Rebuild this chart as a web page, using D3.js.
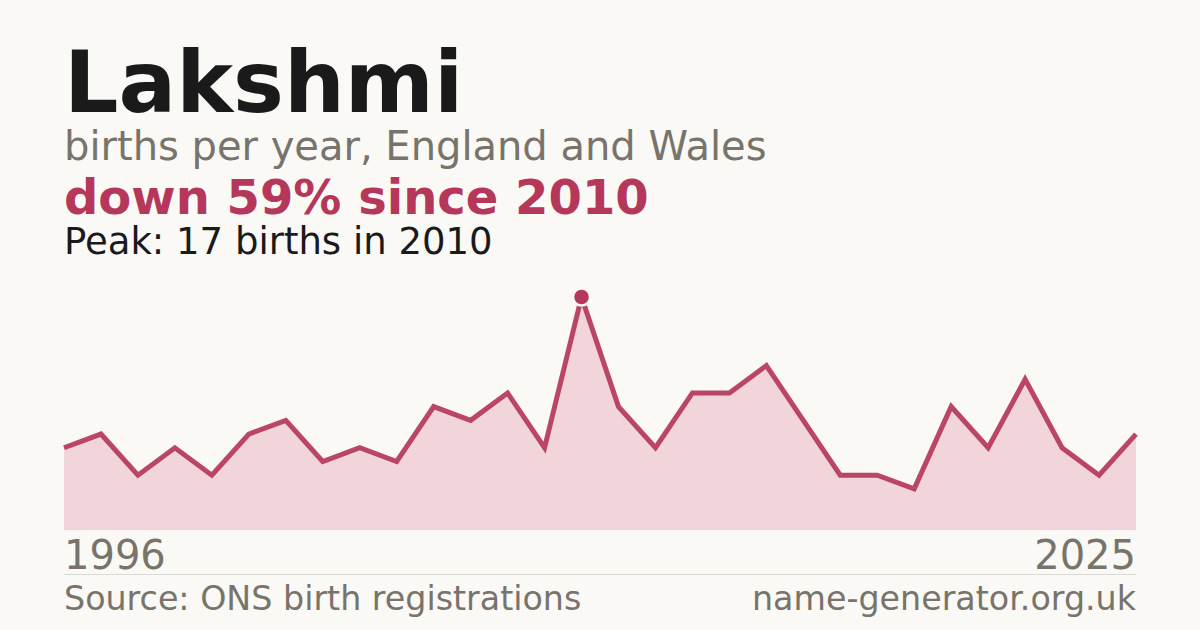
<!DOCTYPE html>
<html><head><meta charset="utf-8">
<script src="https://cdn.jsdelivr.net/npm/d3@7"></script>
<style>html,body{margin:0;padding:0;background:#faf9f5;}svg{display:block;font-family:"DejaVu Sans",sans-serif;}</style>
</head><body>
<svg id="c" width="1200" height="630"></svg>
<script>
const years = [1996,1997,1998,1999,2000,2001,2002,2003,2004,2005,2006,2007,2008,2009,2010,2011,2012,2013,2014,2015,2016,2017,2018,2019,2020,2021,2022,2023,2024,2025];
const births = [6,7,4,6,4,7,8,5,6,5,9,8,10,6,17,9,6,10,10,12,8,4,4,3,9,6,11,6,4,7];
const titleText = "Lakshmi";
const subtitleText = "births per year, England and Wales";
const changeText = "down 59% since 2010";
const peakText = "Peak: 17 births in 2010";
const sourceText = "Source: ONS birth registrations";
const siteText = "name-generator.org.uk";

const svg = d3.select("#c");
svg.append("rect").attr("width",1200).attr("height",630).attr("fill","#faf9f5");

const data = years.map((y,i)=>({year:y, v:births[i]}));
const x = d3.scaleLinear().domain([years[0], years[years.length-1]]).range([64,1136]);
const y = d3.scaleLinear().domain([0, d3.max(births)]).range([530,297]);

svg.append("path").datum(data)
  .attr("d", d3.area().x(d=>x(d.year)).y0(y(0)).y1(d=>y(d.v)))
  .attr("fill","#f2d5db");
svg.append("path").datum(data)
  .attr("d", d3.line().x(d=>x(d.year)).y(d=>y(d.v)))
  .attr("fill","none").attr("stroke","#b5375a").attr("stroke-width",5).attr("stroke-linejoin","miter").attr("stroke-opacity",0.92);

const peak = data.reduce((a,b)=>b.v>a.v?b:a);
svg.append("circle").attr("cx",x(peak.year)).attr("cy",y(peak.v)).attr("r",8.5)
  .attr("fill","#b5375a").attr("stroke","#faf9f5").attr("stroke-width",2.5);

const t = (txt,xx,yy,size,color,weight,anchor)=>svg.append("text").text(txt).attr("x",xx).attr("y",yy)
  .attr("font-size",size).attr("fill",color).attr("font-weight",weight||"normal").attr("text-anchor",anchor||"start");

t(titleText,64,112,85.5,"#1a1a1a","bold");
t(subtitleText,64,160,40,"#78736b");
t(changeText,64,214,48,"#b5375a","bold");
t(peakText,64,254,37,"#1a1a1a");
t(String(years[0]),64,569,40,"#78736b");
t(String(years[years.length-1]),1136,569,40,"#78736b","normal","end");
svg.append("line").attr("x1",64).attr("x2",1136).attr("y1",574.5).attr("y2",574.5).attr("stroke","#dcd9d2").attr("stroke-width",1);
t(sourceText,64,610,33.3,"#78736b");
t(siteText,1136,610,33.3,"#78736b","normal","end");
</script>
</body></html>
